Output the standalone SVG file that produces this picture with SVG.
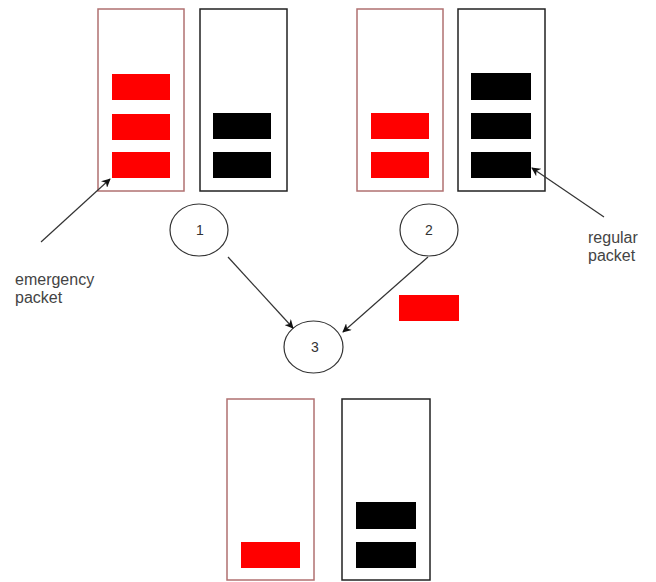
<svg xmlns="http://www.w3.org/2000/svg" width="656" height="582" viewBox="0 0 656 582">
<style>
.qr{fill:#fff;stroke:#b07070;stroke-width:1.5}
.qb{fill:#fff;stroke:#222;stroke-width:1.5}
.pr{fill:#f00}
.pb{fill:#000}
.nd{fill:#fff;stroke:#333;stroke-width:1.2}
.lb{font-family:"Liberation Sans",Arial,sans-serif;font-size:16px;fill:#444}
.nt{font-family:"Liberation Sans",Arial,sans-serif;font-size:14px;fill:#333;text-anchor:middle}
.ln{stroke:#333;stroke-width:1.2;fill:none;marker-end:url(#ah)}
</style>
<defs>
<marker id="ah" viewBox="0 0 10 10" refX="9" refY="5" markerWidth="9" markerHeight="9" orient="auto" markerUnits="userSpaceOnUse">
<path d="M0,0 L10,5 L0,10 L3,5 Z" fill="#111"/>
</marker>
</defs>
<rect width="656" height="582" fill="#fff"/>
<g id="queue-a-emergency">
<rect class="qr" x="98" y="9" width="86" height="182"/>
<rect class="pr" x="112" y="74" width="58" height="26"/>
<rect class="pr" x="112" y="114" width="58" height="26"/>
<rect class="pr" x="112" y="152" width="58" height="26"/>
</g>
<g id="queue-a-regular">
<rect class="qb" x="200" y="9" width="87" height="182"/>
<rect class="pb" x="213" y="113" width="58" height="26"/>
<rect class="pb" x="213" y="152" width="58" height="26"/>
</g>
<g id="queue-b-emergency">
<rect class="qr" x="357" y="9" width="86" height="182"/>
<rect class="pr" x="371" y="113" width="58" height="26"/>
<rect class="pr" x="371" y="152" width="58" height="26"/>
</g>
<g id="queue-b-regular">
<rect class="qb" x="458" y="9" width="87" height="182"/>
<rect class="pb" x="471" y="73" width="60" height="27"/>
<rect class="pb" x="471" y="113" width="60" height="26"/>
<rect class="pb" x="471" y="152" width="60" height="26"/>
</g>
<g id="node-1">
<ellipse class="nd" cx="199" cy="230" rx="29" ry="26"/>
<text class="nt" x="200" y="235">1</text>
</g>
<g id="node-2">
<ellipse class="nd" cx="429" cy="230" rx="29" ry="26"/>
<text class="nt" x="429" y="235">2</text>
</g>
<g id="node-3">
<ellipse class="nd" cx="313.5" cy="347" rx="29.5" ry="26"/>
<text class="nt" x="315" y="352">3</text>
</g>
<g id="moving-packet">
<rect class="pr" x="399" y="295" width="60" height="26"/>
</g>
<g id="queue-c-emergency">
<rect class="qr" x="227" y="399" width="87" height="181"/>
<rect class="pr" x="241" y="542" width="59" height="26"/>
</g>
<g id="queue-c-regular">
<rect class="qb" x="342" y="399" width="88" height="181"/>
<rect class="pb" x="356" y="502" width="60" height="27"/>
<rect class="pb" x="356" y="542" width="60" height="26"/>
</g>
<g id="label-emergency">
<text class="lb" x="15" y="285">emergency</text>
<text class="lb" x="15" y="303">packet</text>
</g>
<g id="label-regular">
<text class="lb" x="588" y="243">regular</text>
<text class="lb" x="588" y="261">packet</text>
</g>
<g id="connectors">
<line class="ln" x1="41" y1="242" x2="110" y2="179"/>
<line class="ln" x1="604" y1="217" x2="532" y2="168"/>
<line class="ln" x1="228" y1="257" x2="293" y2="328"/>
<line class="ln" x1="428" y1="257" x2="343" y2="332"/>
</g>
</svg>
